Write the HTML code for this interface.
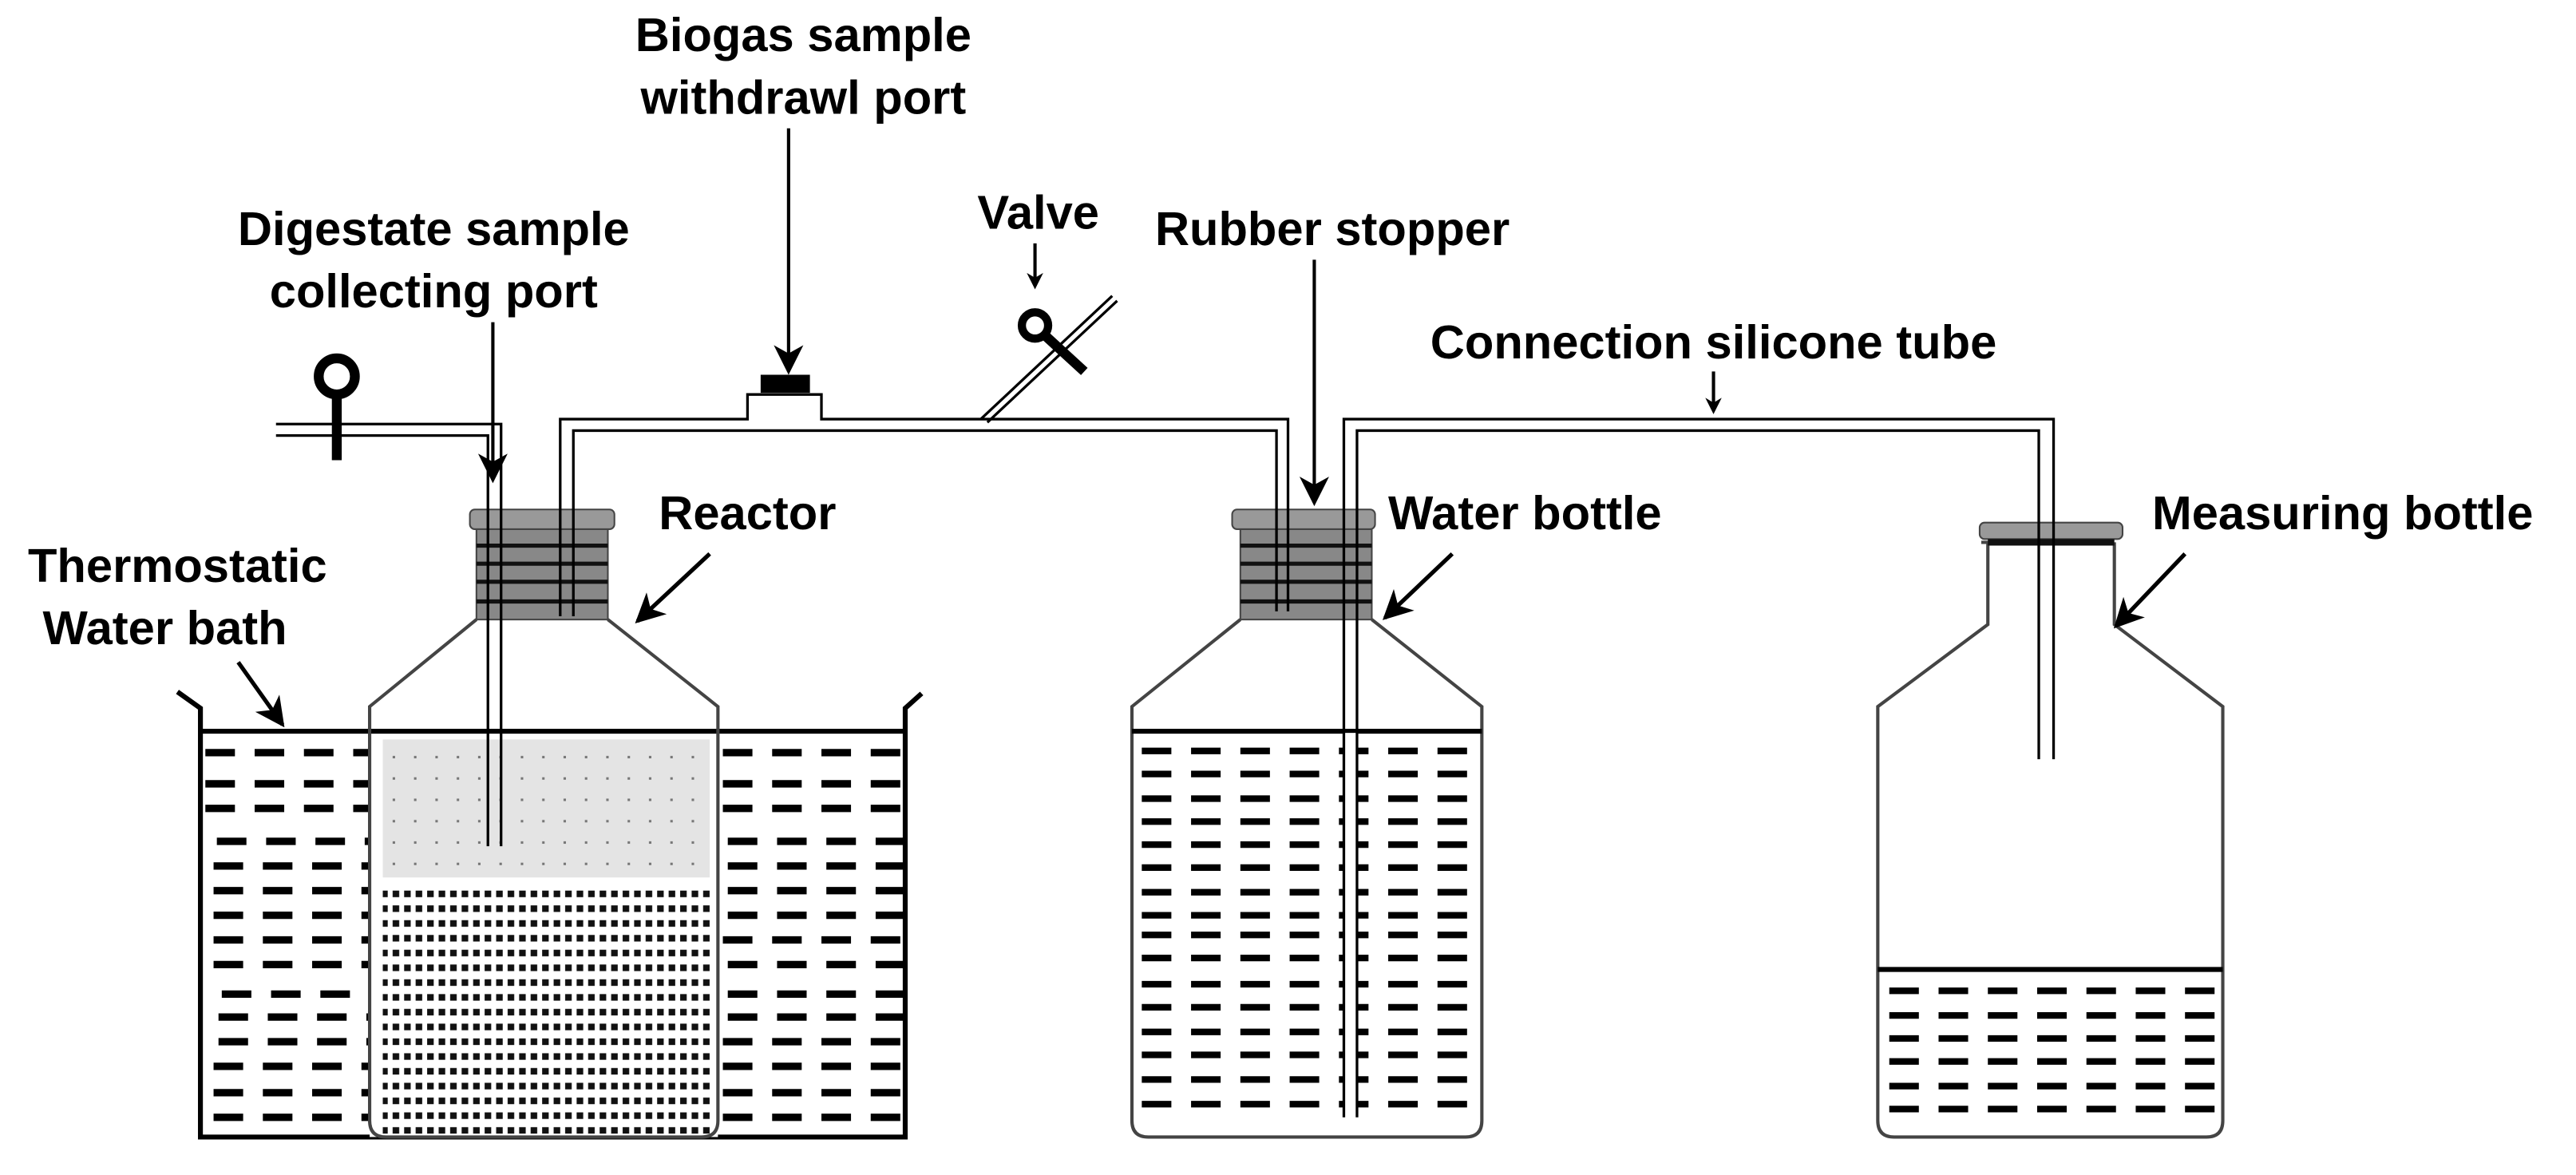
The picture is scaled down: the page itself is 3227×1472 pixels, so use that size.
<!DOCTYPE html>
<html><head><meta charset="utf-8"><style>
html,body{margin:0;padding:0;background:#fff;}
svg{display:block;}
text{font-family:"Liberation Sans",Arial,sans-serif;font-weight:bold;font-size:29px;fill:#000;}
</style></head><body>
<svg width="3227" height="1472" viewBox="0 0 1568 715" xmlns="http://www.w3.org/2000/svg">
<defs>
<marker id="ah" markerWidth="10" markerHeight="10" refX="8" refY="5" orient="auto" markerUnits="userSpaceOnUse" viewBox="0 0 10 10">
<path d="M0,0 L10,5 L0,10 L3,5 Z" fill="#000"/></marker>
<marker id="ab" markerWidth="18" markerHeight="18" refX="16" refY="9" orient="auto" markerUnits="userSpaceOnUse" viewBox="0 0 18 18">
<path d="M0,0 L18,9 L0,18 L5,9 Z" fill="#000"/></marker>
<pattern id="dense" width="7" height="9" patternUnits="userSpaceOnUse"><rect x="1" y="2" width="4" height="4" fill="#111"/></pattern>
<pattern id="sparse" width="13" height="13" patternUnits="userSpaceOnUse"><rect x="5" y="5" width="1.5" height="1.5" fill="#777"/></pattern>
</defs>

<!-- Bath -->
<g stroke="#000" fill="none">
<path d="M108,421 L122,431 L122,692 L551,692 L551,431 L561,422" stroke-width="3"/>
</g>
<g stroke="#000" stroke-width="4.5" stroke-dasharray="18 12">
<line x1="125" y1="458" x2="228" y2="458"/><line x1="125" y1="477" x2="228" y2="477"/>
<line x1="125" y1="492" x2="228" y2="492"/><line x1="132" y1="512" x2="228" y2="512"/>
<line x1="130" y1="527" x2="228" y2="527"/><line x1="130" y1="542" x2="228" y2="542"/>
<line x1="130" y1="557" x2="228" y2="557"/><line x1="130" y1="572" x2="228" y2="572"/>
<line x1="130" y1="587" x2="228" y2="587"/><line x1="135" y1="605" x2="228" y2="605"/>
<line x1="133" y1="619" x2="228" y2="619"/><line x1="133" y1="634" x2="228" y2="634"/>
<line x1="130" y1="649" x2="228" y2="649"/><line x1="130" y1="665" x2="228" y2="665"/>
<line x1="130" y1="680" x2="228" y2="680"/>
<line x1="440" y1="458" x2="550" y2="458"/><line x1="440" y1="477" x2="550" y2="477"/>
<line x1="440" y1="492" x2="550" y2="492"/><line x1="443" y1="512" x2="550" y2="512"/>
<line x1="443" y1="527" x2="550" y2="527"/><line x1="443" y1="542" x2="550" y2="542"/>
<line x1="443" y1="557" x2="550" y2="557"/><line x1="440" y1="572" x2="550" y2="572"/>
<line x1="443" y1="587" x2="550" y2="587"/><line x1="443" y1="605" x2="550" y2="605"/>
<line x1="443" y1="619" x2="550" y2="619"/><line x1="440" y1="634" x2="550" y2="634"/>
<line x1="440" y1="649" x2="550" y2="649"/><line x1="440" y1="665" x2="550" y2="665"/>
<line x1="440" y1="680" x2="550" y2="680"/>
</g>

<!-- Reactor -->
<rect x="225" y="445" width="212" height="247" fill="#fff"/>
<line x1="122" y1="445" x2="551" y2="445" stroke="#000" stroke-width="3"/>
<rect x="233" y="450" width="199" height="84" fill="#e4e4e4"/>
<rect x="233" y="450" width="199" height="84" fill="url(#sparse)"/>
<rect x="233" y="538" width="199" height="152" fill="url(#dense)"/>
<path d="M290,377 L225,430 L225,682 Q225,692 235,692 L427,692 Q437,692 437,682 L437,430 L370,377" fill="none" stroke="#444" stroke-width="2"/>
<rect x="290" y="322" width="80" height="55" fill="#888" stroke="#444"/>
<g stroke="#111" stroke-width="2.5"><line x1="290" y1="332" x2="370" y2="332"/><line x1="290" y1="343" x2="370" y2="343"/><line x1="290" y1="354" x2="370" y2="354"/><line x1="290" y1="366" x2="370" y2="366"/></g>
<rect x="286" y="310" width="88" height="12" rx="3" fill="#999" stroke="#444"/>

<!-- Water bottle -->
<path d="M755,377 L689,430 L689,682 Q689,692 699,692 L892,692 Q902,692 902,682 L902,430 L835,377" fill="none" stroke="#444" stroke-width="2"/>
<line x1="689" y1="445" x2="902" y2="445" stroke="#000" stroke-width="3"/>
<g stroke="#000" stroke-width="4" stroke-dasharray="18 12">
<line x1="695" y1="457" x2="900" y2="457"/><line x1="695" y1="471" x2="900" y2="471"/>
<line x1="695" y1="486" x2="900" y2="486"/><line x1="695" y1="500" x2="900" y2="500"/>
<line x1="695" y1="514" x2="900" y2="514"/><line x1="695" y1="528" x2="900" y2="528"/>
<line x1="695" y1="543" x2="900" y2="543"/><line x1="695" y1="557" x2="900" y2="557"/>
<line x1="695" y1="569" x2="900" y2="569"/><line x1="695" y1="583" x2="900" y2="583"/>
<line x1="695" y1="599" x2="900" y2="599"/><line x1="695" y1="613" x2="900" y2="613"/>
<line x1="695" y1="628" x2="900" y2="628"/><line x1="695" y1="642" x2="900" y2="642"/>
<line x1="695" y1="657" x2="900" y2="657"/><line x1="695" y1="672" x2="900" y2="672"/>
</g>
<rect x="818" y="446" width="8" height="234" fill="#fff"/>
<rect x="755" y="322" width="80" height="55" fill="#888" stroke="#444"/>
<g stroke="#111" stroke-width="2.5"><line x1="755" y1="332" x2="835" y2="332"/><line x1="755" y1="343" x2="835" y2="343"/><line x1="755" y1="354" x2="835" y2="354"/><line x1="755" y1="366" x2="835" y2="366"/></g>
<rect x="750" y="310" width="87" height="12" rx="3" fill="#999" stroke="#444"/>

<!-- Measuring bottle -->
<path d="M1206,330 L1210,330 L1210,380 L1143,430 L1143,682 Q1143,692 1153,692 L1343,692 Q1353,692 1353,682 L1353,430 L1287,380 L1287,330" fill="none" stroke="#444" stroke-width="2"/>
<rect x="1205" y="318" width="87" height="10" rx="3" fill="#999" stroke="#444"/>
<line x1="1210" y1="330" x2="1287" y2="330" stroke="#111" stroke-width="4"/>
<line x1="1143" y1="590" x2="1353" y2="590" stroke="#000" stroke-width="3"/>
<g stroke="#000" stroke-width="4" stroke-dasharray="18 12">
<line x1="1150" y1="603" x2="1352" y2="603"/><line x1="1150" y1="618" x2="1352" y2="618"/>
<line x1="1150" y1="632" x2="1352" y2="632"/><line x1="1150" y1="646" x2="1352" y2="646"/>
<line x1="1150" y1="661" x2="1352" y2="661"/><line x1="1150" y1="675" x2="1352" y2="675"/>
</g>

<!-- Tubes -->
<g stroke="#000" stroke-width="1.6" fill="none">
<path d="M168,258 L305,258 L305,515"/>
<path d="M168,265 L297,265 L297,515"/>
<path d="M341,375 L341,255 L455,255 L455,240 L500,240 L500,255 L784,255 L784,372"/>
<path d="M349,375 L349,262 L777,262 L777,372"/>
<path d="M818,680 L818,255 L1250,255 L1250,462"/>
<path d="M826,680 L826,262 L1241,262 L1241,462"/>
<path d="M597,255 L677,180"/><path d="M601,257 L680,183"/>
</g>
<rect x="463" y="228" width="30" height="11" fill="#000"/>
<circle cx="205" cy="229" r="11" fill="none" stroke="#000" stroke-width="6"/>
<rect x="202" y="240" width="6" height="40" fill="#000"/>
<circle cx="630" cy="198" r="8" fill="none" stroke="#000" stroke-width="5" />
<line x1="636" y1="204" x2="660" y2="226" stroke="#000" stroke-width="6"/>

<!-- Labels -->
<text x="489" y="31" text-anchor="middle">Biogas sample</text>
<text x="489" y="69" text-anchor="middle">withdrawl port</text>
<line x1="480" y1="78" x2="480" y2="226" stroke="#000" stroke-width="2" marker-end="url(#ab)"/>
<text x="264" y="149" text-anchor="middle">Digestate sample</text>
<text x="264" y="187" text-anchor="middle">collecting port</text>
<line x1="300" y1="196" x2="300" y2="292" stroke="#000" stroke-width="2" marker-end="url(#ab)"/>
<text x="632" y="139" text-anchor="middle">Valve</text>
<line x1="630" y1="148" x2="630" y2="174" stroke="#000" stroke-width="2" marker-end="url(#ah)"/>
<text x="811" y="149" text-anchor="middle">Rubber stopper</text>
<line x1="800" y1="158" x2="800" y2="306" stroke="#000" stroke-width="2" marker-end="url(#ab)"/>
<text x="1043" y="218" text-anchor="middle">Connection silicone tube</text>
<line x1="1043" y1="226" x2="1043" y2="250" stroke="#000" stroke-width="2" marker-end="url(#ah)"/>
<text x="401" y="322">Reactor</text>
<line x1="432" y1="337" x2="388" y2="378" stroke="#000" stroke-width="2.5" marker-end="url(#ab)"/>
<text x="17" y="354">Thermostatic</text>
<text x="26" y="392">Water bath</text>
<line x1="145" y1="403" x2="172" y2="441" stroke="#000" stroke-width="2.5" marker-end="url(#ab)"/>
<text x="845" y="322">Water bottle</text>
<line x1="884" y1="337" x2="843" y2="376" stroke="#000" stroke-width="2.5" marker-end="url(#ab)"/>
<text x="1310" y="322">Measuring bottle</text>
<line x1="1330" y1="337" x2="1288" y2="381" stroke="#000" stroke-width="2.5" marker-end="url(#ab)"/>
</svg>
</body></html>
